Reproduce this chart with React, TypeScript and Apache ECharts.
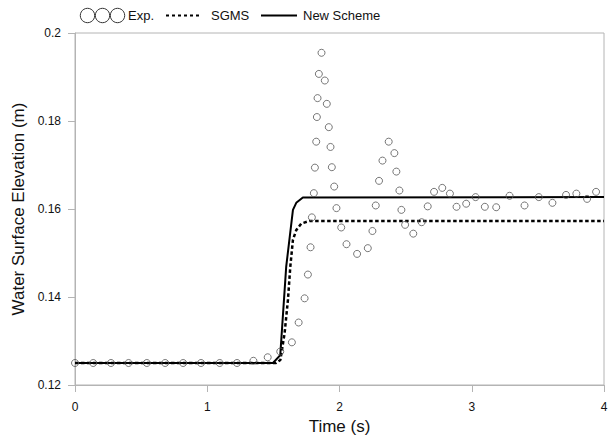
import React, { useEffect, useRef } from "react";
import * as echarts from "echarts";

const expX = [0, 0.138, 0.272, 0.405, 0.543, 0.682, 0.818, 0.953, 1.094, 1.225, 1.349, 1.457, 1.552, 1.64, 1.691, 1.736, 1.761, 1.781, 1.791, 1.806, 1.814, 1.824, 1.829, 1.834, 1.844, 1.864, 1.889, 1.904, 1.919, 1.932, 1.942, 1.96, 1.977, 2.013, 2.053, 2.133, 2.214, 2.249, 2.274, 2.299, 2.325, 2.372, 2.415, 2.43, 2.453, 2.468, 2.496, 2.558, 2.621, 2.667, 2.715, 2.777, 2.835, 2.885, 2.958, 3.029, 3.099, 3.185, 3.286, 3.399, 3.507, 3.61, 3.713, 3.791, 3.872, 3.94];
const expY = [0.125, 0.125, 0.125, 0.125, 0.125, 0.125, 0.125, 0.125, 0.125, 0.125, 0.1255, 0.1263, 0.1276, 0.1297, 0.1342, 0.1397, 0.1451, 0.1513, 0.1581, 0.1636, 0.1694, 0.1753, 0.1809, 0.1852, 0.1907, 0.1955, 0.1892, 0.1839, 0.1786, 0.1741, 0.1695, 0.1651, 0.1602, 0.1558, 0.152, 0.1498, 0.1511, 0.155, 0.1608, 0.1664, 0.171, 0.1753, 0.1727, 0.1685, 0.1642, 0.1598, 0.1564, 0.1544, 0.157, 0.1606, 0.1639, 0.1648, 0.1635, 0.1605, 0.1612, 0.1627, 0.1605, 0.1604, 0.163, 0.1608, 0.1627, 0.1614, 0.1632, 0.1635, 0.1623, 0.1639];

const sgmsX = [0, 1.52, 1.553, 1.585, 1.61, 1.628, 1.648, 1.673, 1.711, 1.774, 4];
const sgmsY = [0.125, 0.125, 0.1257, 0.1318, 0.1393, 0.1469, 0.153, 0.1552, 0.1567, 0.1573, 0.1573];

const newX = [0, 1.497, 1.552, 1.597, 1.648, 1.673, 1.723, 4];
const newY = [0.125, 0.125, 0.1268, 0.1469, 0.1598, 0.1614, 0.1626, 0.1627];

const legendLabels = ["Exp.", "SGMS", "New Scheme"];
const xTitle = "Time (s)";
const yTitle = "Water Surface Elevation (m)";

const FONT = "'Liberation Sans', Arial, sans-serif";

export default function App() {
  const ref = useRef<HTMLDivElement>(null);
  useEffect(() => {
    if (!ref.current) return;
    const chart = echarts.init(ref.current, null, { renderer: "svg" });
    const zip = (xs: number[], ys: number[]) => xs.map((x, i) => [x, ys[i]]);
    const axisLineColor = "#b4b4b4";
    chart.setOption({
      animation: false,
      backgroundColor: "#ffffff",
      textStyle: { fontFamily: FONT },
      grid: {
        left: 75,
        right: 11,
        top: 33,
        bottom: 56,
        show: true,
        borderColor: axisLineColor,
        borderWidth: 1,
      },
      xAxis: {
        type: "value",
        min: 0,
        max: 4,
        interval: 1,
        name: xTitle,
        nameLocation: "middle",
        nameGap: 31,
        nameTextStyle: { fontSize: 17, color: "#111", fontFamily: FONT },
        axisLine: { show: true, lineStyle: { color: axisLineColor, width: 1 } },
        axisTick: { show: true, inside: false, length: 7, lineStyle: { color: axisLineColor } },
        axisLabel: { margin: 16, fontSize: 12, color: "#111", fontFamily: FONT },
        splitLine: { show: false },
      },
      yAxis: {
        type: "value",
        min: 0.12,
        max: 0.2,
        interval: 0.02,
        name: yTitle,
        nameLocation: "middle",
        nameRotate: 90,
        nameGap: 43,
        nameTextStyle: { fontSize: 17, color: "#111", fontFamily: FONT },
        axisLine: { show: true, lineStyle: { color: axisLineColor, width: 1 } },
        axisTick: { show: true, inside: false, length: 7, lineStyle: { color: axisLineColor } },
        axisLabel: {
          margin: 14,
          fontSize: 12,
          color: "#111",
          fontFamily: FONT,
          formatter: (v: number) => String(parseFloat(v.toFixed(2))),
        },
        splitLine: { show: false },
      },
      series: [
        {
          name: legendLabels[2],
          type: "line",
          data: zip(newX, newY),
          showSymbol: false,
          symbol: "none",
          lineStyle: { color: "#000", width: 2 },
          z: 3,
        },
        {
          name: legendLabels[1],
          type: "line",
          data: zip(sgmsX, sgmsY),
          showSymbol: false,
          symbol: "none",
          lineStyle: { color: "#000", width: 2.5, type: [3.5, 2.5] },
          z: 3,
        },
        {
          name: legendLabels[0],
          type: "scatter",
          data: zip(expX, expY),
          symbol: "circle",
          symbolSize: 7,
          itemStyle: { color: "rgba(255,255,255,0)", borderColor: "#555", borderWidth: 1 },
          z: 4,
        },
      ],
      graphic: [
        { type: "circle", shape: { cx: 87.5, cy: 15.5, r: 7.2 }, style: { fill: "none", stroke: "#333", lineWidth: 1 } },
        { type: "circle", shape: { cx: 102.5, cy: 15.5, r: 7.2 }, style: { fill: "none", stroke: "#333", lineWidth: 1 } },
        { type: "circle", shape: { cx: 117.5, cy: 15.5, r: 7.2 }, style: { fill: "none", stroke: "#333", lineWidth: 1 } },
        { type: "text", x: 128, y: 15.5, style: { text: legendLabels[0], fontSize: 13, fontFamily: FONT, fill: "#111", verticalAlign: "middle", align: "left" } },
        { type: "line", shape: { x1: 166, y1: 15.5, x2: 200, y2: 15.5 }, style: { stroke: "#000", lineWidth: 2, lineDash: [3, 3] } },
        { type: "text", x: 211, y: 15.5, style: { text: legendLabels[1], fontSize: 13, fontFamily: FONT, fill: "#111", verticalAlign: "middle", align: "left" } },
        { type: "line", shape: { x1: 261, y1: 15.5, x2: 297, y2: 15.5 }, style: { stroke: "#000", lineWidth: 2 } },
        { type: "text", x: 303, y: 15.5, style: { text: legendLabels[2], fontSize: 13, fontFamily: FONT, fill: "#111", verticalAlign: "middle", align: "left" } },
      ],
    });
    return () => chart.dispose();
  }, []);
  return <div ref={ref} style={{ position: "fixed", left: 0, top: 0, width: 615, height: 441 }} />;
}
